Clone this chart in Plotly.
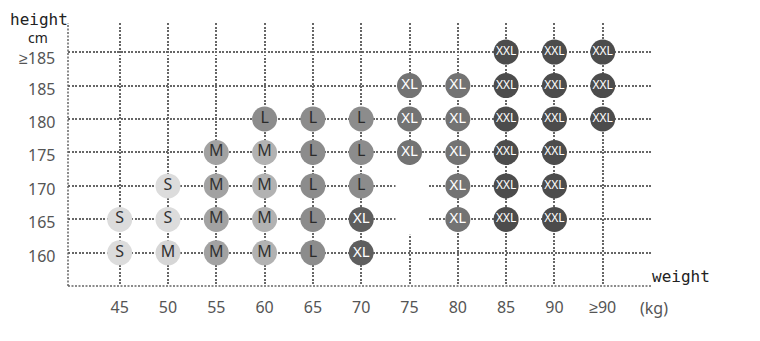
import plotly.graph_objects as go

# ---- data ----
weights = ["45", "50", "55", "60", "65", "70", "75", "80", "85", "90", "≥90"]
heights = ["160", "165", "170", "175", "180", "185", "≥185"]

# size grid: one row per height (bottom to top), one entry per weight column
size_grid = [
    ["S", "M", "M", "M", "L", "XL", "", "", "", "", ""],            # 160
    ["S", "S", "M", "M", "L", "XL", "", "XL", "XXL", "XXL", ""],    # 165
    ["", "S", "M", "M", "L", "L", "", "XL", "XXL", "XXL", ""],      # 170
    ["", "", "M", "M", "L", "L", "XL", "XL", "XXL", "XXL", ""],     # 175
    ["", "", "", "L", "L", "L", "XL", "XL", "XXL", "XXL", "XXL"],   # 180
    ["", "", "", "", "", "", "XL", "XL", "XXL", "XXL", "XXL"],      # 185
    ["", "", "", "", "", "", "", "", "XXL", "XXL", "XXL"],          # >=185
]

# ---- styles ----
base_color = {"S": "#dcdcdc", "M": "#a2a2a2", "L": "#8c8c8c", "XL": "#737373", "XXL": "#4c4c4c"}
text_color = {"S": "#333333", "M": "#333333", "L": "#2a2a2a", "XL": "#ffffff", "XXL": "#ffffff"}
text_size = {"S": 16, "M": 16, "L": 16, "XL": 15, "XXL": 12}


def cell_color(size, col):
    if size == "M" and col == 1:
        return "#d6d6d6"
    if size == "M" and col == 3:
        return "#b2b2b2"
    if size == "XL" and col == 5:
        return "#5e5e5e"
    return base_color[size]


xs, ys, labels, mcolors, tcolors, tsizes = [], [], [], [], [], []
for r, row in enumerate(size_grid):
    for c, s in enumerate(row):
        if not s:
            continue
        xs.append(c)
        ys.append(r)
        labels.append(s)
        mcolors.append(cell_color(s, c))
        tcolors.append(text_color[s])
        tsizes.append(text_size[s])

fig = go.Figure()
fig.add_trace(go.Scatter(
    x=xs, y=ys, mode="markers+text", text=labels,
    textposition="middle center",
    marker=dict(size=25, color=mcolors, line=dict(width=0)),
    textfont=dict(color=tcolors, size=tsizes, family="Noto Sans, Liberation Sans, Arial"),
    hoverinfo="skip", showlegend=False, cliponaxis=False,
))

tick_font = dict(family="Noto Sans, Liberation Sans, Arial", size=16, color="#555555")
grid_style = dict(showgrid=True, gridcolor="#666666", gridwidth=1.5, griddash="2px,1.5px",
                  zeroline=False, showline=False, ticks="", tickfont=tick_font)

fig.update_xaxes(range=[-1.07, 11.02], tickmode="array",
                 tickvals=list(range(len(weights))), ticktext=weights,
                 ticklabelstandoff=10, **grid_style)
fig.update_yaxes(range=[-0.99, 6.87], tickmode="array",
                 tickvals=list(range(len(heights))), ticktext=[""] * len(heights),
                 showticklabels=False, **grid_style)

# y labels sit slightly below their grid lines, as in the reference
for i, h in enumerate(heights):
    fig.add_annotation(text=h, xref="paper", yref="y", x=-0.0205, y=i,
                       xanchor="right", yanchor="middle", showarrow=False, borderpad=0,
                       yshift=-6 if h.startswith("≥") else -3, font=tick_font)

dotline = dict(color="#666666", width=1.5, dash="2px,1.5px")
fig.add_shape(type="line", xref="paper", yref="paper", x0=0, x1=0, y0=0, y1=1,
              line=dotline, layer="between")
fig.add_shape(type="line", xref="paper", yref="paper", x0=0, x1=1, y0=0, y1=0,
              line=dotline, layer="between")
# white blot covering part of the grid near 75kg / 170cm
fig.add_shape(type="rect", x0=5.71, x1=6.37, y0=0.54, y1=2.63,
              fillcolor="white", line=dict(width=0), layer="between")

mono = dict(family="DejaVu Sans Mono, monospace", size=16, color="#222222")
fig.add_annotation(text="height", xref="paper", yref="paper", x=-0.101, y=1.015,
                   xanchor="left", yanchor="middle", showarrow=False, font=mono, borderpad=0)
fig.add_annotation(text="cm", xref="paper", yref="paper", x=-0.0514, y=0.946,
                   xanchor="center", yanchor="middle", showarrow=False, borderpad=0,
                   font=dict(family="Noto Sans, Liberation Sans, Arial", size=14, color="#222222"))
fig.add_annotation(text="weight", xref="paper", yref="paper", x=0.9966, y=0.036,
                   xanchor="left", yanchor="middle", showarrow=False, font=mono)
fig.add_annotation(text="(kg)", xref="paper", yref="paper", x=1.003, y=-0.082,
                   xanchor="center", yanchor="middle", showarrow=False,
                   font=tick_font)

fig.update_layout(width=760, height=341, margin=dict(l=68, r=108, t=23, b=55),
                  paper_bgcolor="white", plot_bgcolor="white")

fig.write_html("out.html")
